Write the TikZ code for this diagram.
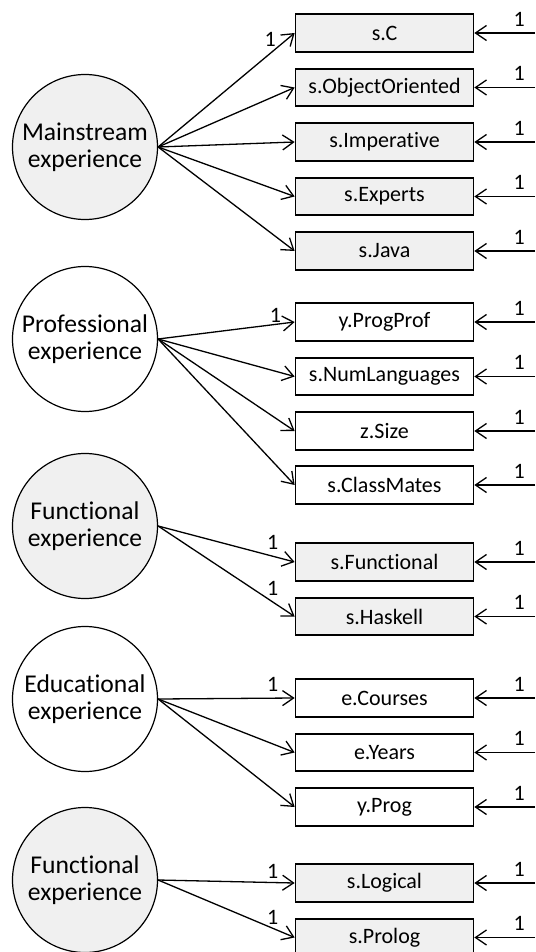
\documentclass[tikz,border=0pt]{standalone}
\usepackage{fontspec}
\setmainfont{Carlito}[Ligatures=NoCommon]
\usetikzlibrary{arrows.meta}
\definecolor{latgray}{HTML}{F0F0F0}

\begin{document}
\begin{tikzpicture}[x=0.5pt,y=-0.5pt,font=\fontsize{11}{13.5}\selectfont,
  obs/.style={draw,line width=0.85pt,minimum width=89pt,minimum height=18.75pt,inner sep=0pt},
  lat/.style={draw,circle,line width=0.6pt,minimum size=72.5pt,inner sep=0pt,align=center,
    font=\fontsize{12.8}{13.5}\selectfont},
  load/.style={-{Straight Barb[length=5.5pt,width=7.5pt]},line width=0.65pt},
  one/.style={above,inner sep=3pt}]
\useasboundingbox (0,0) rectangle (535,952);
% ---- latent factors ------------------------------------------------------
% pixel grid: 535 x 952, y runs downwards
\node[lat,fill=latgray] (mainstream)   at (85,147) {Mainstream\\experience};
\node[lat]              (professional) at (85,339) {Professional\\experience};
\node[lat,fill=latgray] (functional)   at (85,526) {Functional\\experience};
\node[lat]              (educational)  at (85,699) {Educational\\experience};
\node[lat,fill=latgray] (functionalb)  at (85,880) {Functional\\experience};

% ---- indicators ----------------------------------------------------------
\node[obs,fill=latgray] (sC)        at (384.5,33)    {s.C};
\node[obs,fill=latgray] (sObj)      at (384.5,87.5)  {s.ObjectOriented};
\node[obs,fill=latgray] (sImp)      at (384.5,142)   {s.Imperative};
\node[obs,fill=latgray] (sExp)      at (384.5,196.5) {s.Experts};
\node[obs,fill=latgray] (sJava)     at (384.5,251)   {s.Java};
\node[obs]              (yProgProf) at (384.5,322)   {y.ProgProf};
\node[obs]              (sNumLang)  at (384.5,376.5) {s.NumLanguages};
\node[obs]              (zSize)     at (384.5,431)   {z.Size};
\node[obs]              (sClass)    at (384.5,485)   {s.ClassMates};
\node[obs,fill=latgray] (sFunc)     at (384.5,562)   {s.Functional};
\node[obs,fill=latgray] (sHask)     at (384.5,616.5) {s.Haskell};
\node[obs]              (eCourses)  at (384.5,698)   {e.Courses};
\node[obs]              (eYears)    at (384.5,752.5) {e.Years};
\node[obs]              (yProg)     at (384.5,807)   {y.Prog};
\node[obs,fill=latgray] (sLogic)    at (384.5,883)   {s.Logical};
\node[obs,fill=latgray] (sProlog)   at (384.5,937.5) {s.Prolog};

% ---- loadings ------------------------------------------------------------
\draw[load] (mainstream.east) -- node[one,pos=0.82]{1} (sC.west);
\foreach \b in {sObj,sImp,sExp,sJava}
  \draw[load] (mainstream.east) -- (\b.west);
\draw[load] (professional.east) -- node[one,pos=0.86,inner sep=0.5pt]{1} (yProgProf.west);
\foreach \b in {sNumLang,zSize,sClass}
  \draw[load] (professional.east) -- (\b.west);
\draw[load] (functional.east) -- node[one,pos=0.84]{1} (sFunc.west);
\draw[load] (functional.east) -- node[one,pos=0.84]{1} (sHask.west);
\draw[load] (educational.east) -- node[one,pos=0.84]{1} (eCourses.west);
\foreach \b in {eYears,yProg}
  \draw[load] (educational.east) -- (\b.west);
\draw[load] (functionalb.east) -- node[one,pos=0.84,inner sep=1.5pt]{1} (sLogic.west);
\draw[load] (functionalb.east) -- node[one,pos=0.84,inner sep=1.5pt]{1} (sProlog.west);

% ---- error terms, coming in from the right edge -------------------------
\coordinate (rim) at (535,0);
\foreach \b in {sC,sObj,sImp,sExp,sJava,yProgProf,sNumLang,zSize,sClass,
                sFunc,sHask,eCourses,eYears,yProg,sLogic,sProlog}{
  \coordinate (r\b) at (\b.east -| rim);
  \draw[load] (r\b) -- node[one,pos=0.26]{1} (\b.east);
}
\end{tikzpicture}
\end{document}
